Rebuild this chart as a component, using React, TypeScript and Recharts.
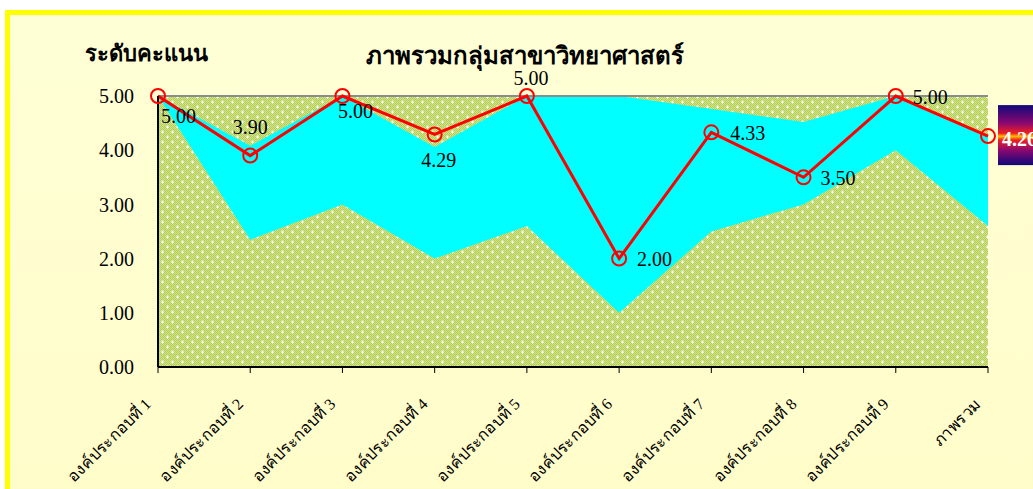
import { ComposedChart, Area, Line, XAxis, YAxis, CartesianGrid, LabelList, ReferenceLine } from "recharts";

const categories = [
  "องค์ประกอบที่ 1",
  "องค์ประกอบที่ 2",
  "องค์ประกอบที่ 3",
  "องค์ประกอบที่ 4",
  "องค์ประกอบที่ 5",
  "องค์ประกอบที่ 6",
  "องค์ประกอบที่ 7",
  "องค์ประกอบที่ 8",
  "องค์ประกอบที่ 9",
  "ภาพรวม",
];
const scores = [5.0, 3.9, 5.0, 4.29, 5.0, 2.0, 4.33, 3.5, 5.0, 4.26];
const bandLow = [5.0, 2.35, 3.0, 2.0, 2.6, 1.0, 2.5, 3.0, 4.0, 2.6];
const bandHigh = [5.0, 4.08, 5.0, 4.06, 5.0, 5.0, 4.76, 4.52, 5.0, 4.26];
const yTicks = [0, 1, 2, 3, 4, 5];

const data = categories.map((name, i) => ({
  name,
  score: scores[i],
  band: [bandLow[i], bandHigh[i]],
}));

const serif = "'Liberation Serif', 'Times New Roman', serif";

// where each value label sits relative to its point
const labelSpots: Record<number, { dx: number; dy: number; anchor: "start" | "middle" | "end" }> = {
  0: { dx: 3, dy: 27, anchor: "start" },
  1: { dx: 0, dy: -22, anchor: "middle" },
  2: { dx: 13, dy: 22, anchor: "middle" },
  3: { dx: 4, dy: 33, anchor: "middle" },
  4: { dx: 4, dy: -11, anchor: "middle" },
  5: { dx: 18, dy: 7, anchor: "start" },
  6: { dx: 19, dy: 8, anchor: "start" },
  7: { dx: 17, dy: 8, anchor: "start" },
  8: { dx: 17, dy: 8, anchor: "start" },
};

function ValueLabel(props: any) {
  const { x, y, value, index } = props;
  const txt = Number(value).toFixed(2);
  if (index === categories.length - 1) {
    return (
      <g>
        <rect x={x + 10} y={y - 31} width={60} height={60} fill="url(#tagGrad)" />
        <text x={x + 14} y={y + 10} fill="#fff" fontFamily={serif} fontWeight="bold" fontSize={20}>
          {txt}
        </text>
      </g>
    );
  }
  const s = labelSpots[index] ?? { dx: 0, dy: -10, anchor: "middle" };
  return (
    <text x={x + s.dx} y={y + s.dy} textAnchor={s.anchor} fill="#000" fontFamily={serif} fontSize={20}>
      {txt}
    </text>
  );
}

function XTick(props: any) {
  const { x, y, payload } = props;
  const tx = x - 6;
  const ty = y + 32;
  return (
    <text x={tx} y={ty} transform={`rotate(-45, ${tx}, ${ty})`} textAnchor="end" fill="#000" fontFamily={serif} fontSize={16}>
      {payload.value}
    </text>
  );
}

export default function App() {
  return (
    <div style={{ position: "absolute", left: 0, top: 0, width: 1033, height: 489, overflow: "hidden", background: "#fff" }}>
      <div
        style={{
          position: "absolute",
          left: 5,
          top: 10,
          width: 1100,
          height: 600,
          border: "5px solid #FFFF00",
          background: "linear-gradient(#FFFFD6, #FFFCC6)",
        }}
      />
      <div style={{ position: "absolute", left: 85, top: 36, fontFamily: serif, fontWeight: "bold", fontSize: 22, color: "#000" }}>
        ระดับคะแนน
      </div>
      <div style={{ position: "absolute", left: 325, width: 400, top: 36, textAlign: "center", fontFamily: serif, fontWeight: "bold", fontSize: 24, color: "#000" }}>
        ภาพรวมกลุ่มสาขาวิทยาศาสตร์
      </div>
      <div style={{ position: "absolute", left: 0, top: 0 }}>
        <ComposedChart width={1033} height={489} data={data} margin={{ top: 96, right: 45, bottom: 92, left: 0 }}>
          <defs>
            <pattern id="checker" width="2" height="2" patternUnits="userSpaceOnUse">
              <rect width="2" height="2" fill="#D2E48A" />
              <rect width="1" height="1" fill="#B4CC58" />
              <rect x="1" y="1" width="1" height="1" fill="#B4CC58" />
            </pattern>
            <pattern id="olive" width="10" height="10" patternUnits="userSpaceOnUse">
              <rect width="10" height="10" fill="url(#checker)" />
              <path d="M1 2h3M2.5 0.5v3M6 7h3M7.5 5.5v3" stroke="#fff" strokeWidth={1} />
            </pattern>
            <linearGradient id="tagGrad" x1="0" y1="0" x2="0" y2="1">
              <stop offset="0" stopColor="#10087A" />
              <stop offset="0.3" stopColor="#8A0870" />
              <stop offset="0.47" stopColor="#F02020" />
              <stop offset="0.52" stopColor="#FFC000" />
              <stop offset="0.58" stopColor="#F02020" />
              <stop offset="0.75" stopColor="#8A0870" />
              <stop offset="1" stopColor="#10087A" />
            </linearGradient>
          </defs>
          <CartesianGrid horizontal={false} vertical={false} fill="url(#olive)" fillOpacity={1} />
          <XAxis
            dataKey="name"
            scale="point"
            padding={{ left: 0, right: 0 }}
            interval={0}
            height={30}
            tick={<XTick />}
            tickSize={6}
            tickMargin={0}
            stroke="#000"
            axisLine={{ stroke: "#000", strokeWidth: 2 }}
            tickLine={{ stroke: "#000" }}
          />
          <YAxis
            domain={[0, 5]}
            ticks={yTicks}
            width={158}
            tickSize={0}
            tickMargin={24}
            tickLine={false}
            axisLine={{ stroke: "#000", strokeWidth: 2 }}
            tickFormatter={(v) => Number(v).toFixed(2)}
            tick={{ fill: "#000", fontFamily: serif, fontSize: 20 }}
          />
          <ReferenceLine y={5} stroke="#8C8C8C" strokeWidth={2} />
          <Area
            type="linear"
            dataKey="band"
            stroke="none"
            fill="#00FFFF"
            fillOpacity={1}
            isAnimationActive={false}
            activeDot={false}
          />
          <Line
            type="linear"
            dataKey="score"
            stroke="#FF0000"
            strokeWidth={3}
            dot={{ r: 7, stroke: "#FF0000", strokeWidth: 2, fill: "none" }}
            activeDot={false}
            isAnimationActive={false}
          >
            <LabelList dataKey="score" content={<ValueLabel />} />
          </Line>
        </ComposedChart>
      </div>
    </div>
  );
}
